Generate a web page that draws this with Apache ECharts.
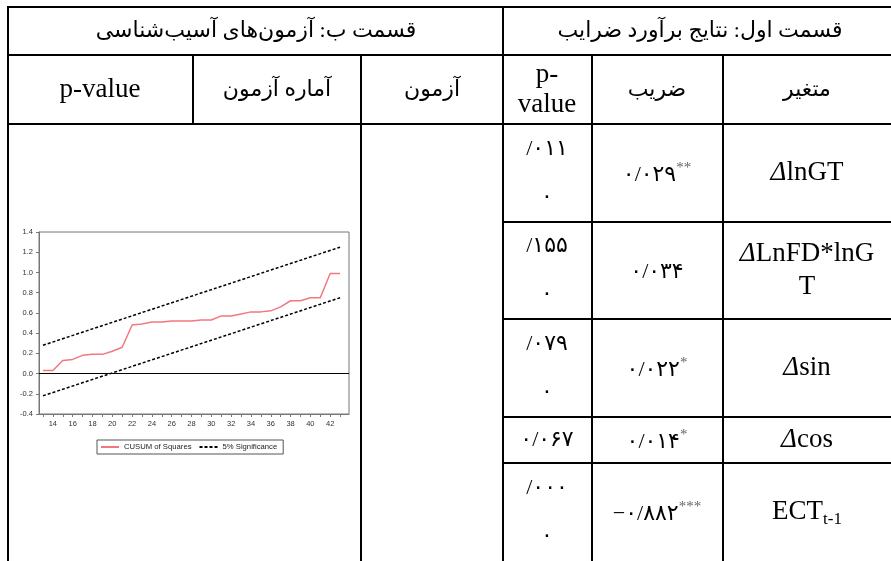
<!DOCTYPE html>
<html>
<head>
<meta charset="utf-8">
<script src="https://cdn.jsdelivr.net/npm/echarts@6/dist/echarts.min.js"></script>
<style>
html,body{margin:0;padding:0;background:#fff;}
#c{width:891px;height:561px;}
</style>
</head>
<body>
<div id="c"></div>
<script>
// ---------- data ----------
const headerLeft = 'قسمت ب: آزمون‌های آسیب‌شناسی';
const headerRight = 'قسمت اول: نتایج برآورد ضرایب';
const colHeadsLeft = ['p-value', 'آماره آزمون', 'آزمون'];
const colHeadsRight = ['p-\nvalue', 'ضریب', 'متغیر'];
const varNames = ['lnGT', 'LnFD*lnG\nT', 'sin', 'cos', 'ECT'];
const varSubs = ['', '', '', '', 't-1'];
const coefValues = ['۰/۰۲۹', '۰/۰۳۴', '۰/۰۲۲', '۰/۰۱۴', '−۰/۸۸۲'];
const coefStars = ['**', '', '*', '*', '***'];
const pValues = ['/۰۱۱\n۰', '/۱۵۵\n۰', '/۰۷۹\n۰', '۰/۰۶۷', '/۰۰۰\n۰'];

const obsX = [13,14,15,16,17,18,19,20,21,22,23,24,25,26,27,28,29,30,31,32,33,34,35,36,37,38,39,40,41,42,43];
const cusumSq = [0.03,0.03,0.13,0.14,0.18,0.19,0.19,0.22,0.26,0.48,0.49,0.51,0.51,0.52,0.52,0.52,0.53,0.53,0.57,0.57,0.59,0.61,0.61,0.62,0.66,0.72,0.72,0.75,0.75,0.99,0.99];
const bandX = [13, 43];
const upperBand = [0.28, 1.25];
const lowerBand = [-0.22, 0.75];
const xTickValues = [13,14,15,16,17,18,19,20,21,22,23,24,25,26,27,28,29,30,31,32,33,34,35,36,37,38,39,40,41,42,43];
const xLabelValues = [14,16,18,20,22,24,26,28,30,32,34,36,38,40,42];

// ---------- layout ----------
const SERIF = "'Liberation Serif','DejaVu Sans',serif";
const SANS = "'Liberation Sans',Arial,sans-serif";
const rowLines = [124, 222, 319, 417, 463, 561];

const g = [];
function line(x1, y1, x2, y2) {
  g.push({type: 'line', shape: {x1, y1, x2, y2}, style: {stroke: '#000', lineWidth: 2}, z: 10, silent: true});
}
function text(x, y, t, opts) {
  g.push({type: 'text', z: 11, silent: true, style: Object.assign({
    x, y, text: t, fill: '#000', align: 'center', verticalAlign: 'middle',
    fontFamily: SERIF, fontSize: 27
  }, opts || {})});
}
// borders
line(7, 7, 891, 7);
line(7, 55, 891, 55);
line(7, 124, 891, 124);
[222, 319, 417, 463].forEach(y => line(503, y, 891, y));
line(8, 6, 8, 561);
line(503, 6, 503, 561);
line(193, 55, 193, 124);
line(361, 55, 361, 561);
line(592, 55, 592, 561);
line(723, 55, 723, 561);

// headers
text(256, 31, headerLeft, {fontSize: 22});
text(700, 31, headerRight, {fontSize: 22});
text(100, 90, colHeadsLeft[0]);
text(277, 90, colHeadsLeft[1], {fontSize: 22});
text(432, 90, colHeadsLeft[2], {fontSize: 22});
text(547, 90, colHeadsRight[0], {lineHeight: 30});
text(657, 90, colHeadsRight[1], {fontSize: 22});
text(807, 90, colHeadsRight[2], {fontSize: 22});

// body rows
for (let i = 0; i < varNames.length; i++) {
  const top = rowLines[i], bot = rowLines[i + 1];
  const cy = (top + bot) / 2;
  let vt = '{d|Δ}{v|' + varNames[i].replace('\n', '}\n{v|') + '}';
  if (varSubs[i]) vt = '{v|' + varNames[i] + '}{s|' + varSubs[i] + '}';
  text(807, cy, vt, {rich: {
    d: {fontFamily: SERIF, fontSize: 27, fontStyle: 'italic', lineHeight: 33},
    v: {fontFamily: SERIF, fontSize: 27, lineHeight: 33},
    s: {fontFamily: SERIF, fontSize: 17, verticalAlign: 'bottom', lineHeight: 33}
  }});
  let ct = '{n|' + coefValues[i] + '}';
  if (coefStars[i]) ct += '{s|' + coefStars[i] + '}';
  text(657, cy + 2, ct, {rich: {
    n: {fontFamily: SERIF, fontSize: 22, lineHeight: 28},
    s: {fontFamily: SERIF, fontSize: 15, verticalAlign: 'top', lineHeight: 28, fill: '#666'}
  }});
  text(547, cy, pValues[i], {fontSize: 22, lineHeight: 48});
}

// ---------- chart ----------
const chart = echarts.init(document.getElementById('c'), null, {renderer: 'canvas'});
const option = {
  animation: false,
  backgroundColor: '#fff',
  textStyle: {fontFamily: SANS},
  grid: {left: 39, top: 232, width: 310, height: 182, show: true, borderColor: '#777', borderWidth: 1, containLabel: false},
  xAxis: {
    type: 'value', min: 12.6, max: 43.9,
    axisLine: {show: true, onZero: false, lineStyle: {color: '#777'}},
    axisTick: {show: true, customValues: xTickValues, length: 3, lineStyle: {color: '#777'}},
    axisLabel: {customValues: xLabelValues, fontSize: 7.5, color: '#333', margin: 6, fontFamily: SANS},
    splitLine: {show: false}
  },
  yAxis: {
    type: 'value', min: -0.4, max: 1.4, interval: 0.2,
    axisLine: {show: true, lineStyle: {color: '#777'}},
    axisTick: {show: true, length: 3, lineStyle: {color: '#777'}},
    axisLabel: {fontSize: 7.5, color: '#333', margin: 6, fontFamily: SANS, formatter: v => (Math.abs(v) < 1e-9 ? 0 : v).toFixed(1)},
    splitLine: {show: false}
  },
  legend: {
    data: ['CUSUM of Squares', '5% Significance'],
    left: 97, top: 440,
    borderColor: '#555', borderWidth: 1, borderRadius: 0,
    padding: [3, 6, 3, 3], itemGap: 7, itemWidth: 18, itemHeight: 8,
    itemStyle: {opacity: 0},
    textStyle: {fontSize: 7.7, color: '#222', fontFamily: SANS}
  },
  series: [
    {
      name: 'CUSUM of Squares', type: 'line', symbol: 'none', silent: true,
      data: obsX.map((x, i) => [x, cusumSq[i]]),
      lineStyle: {color: '#F2787E', width: 1.5}, itemStyle: {color: '#F2787E'},
      markLine: {silent: true, symbol: 'none', label: {show: false},
        lineStyle: {color: '#000', width: 1, type: 'solid'}, data: [{yAxis: 0}]}
    },
    {
      name: '5% Significance', type: 'line', symbol: 'none', silent: true,
      data: bandX.map((x, i) => [x, upperBand[i]]),
      lineStyle: {color: '#000', width: 1.5, type: [3, 2]}, itemStyle: {color: '#000'}
    },
    {
      name: '5% Significance', type: 'line', symbol: 'none', silent: true,
      data: bandX.map((x, i) => [x, lowerBand[i]]),
      lineStyle: {color: '#000', width: 1.5, type: [3, 2]}, itemStyle: {color: '#000'}
    }
  ],
  graphic: g
};
chart.setOption(option);
</script>
</body>
</html>
